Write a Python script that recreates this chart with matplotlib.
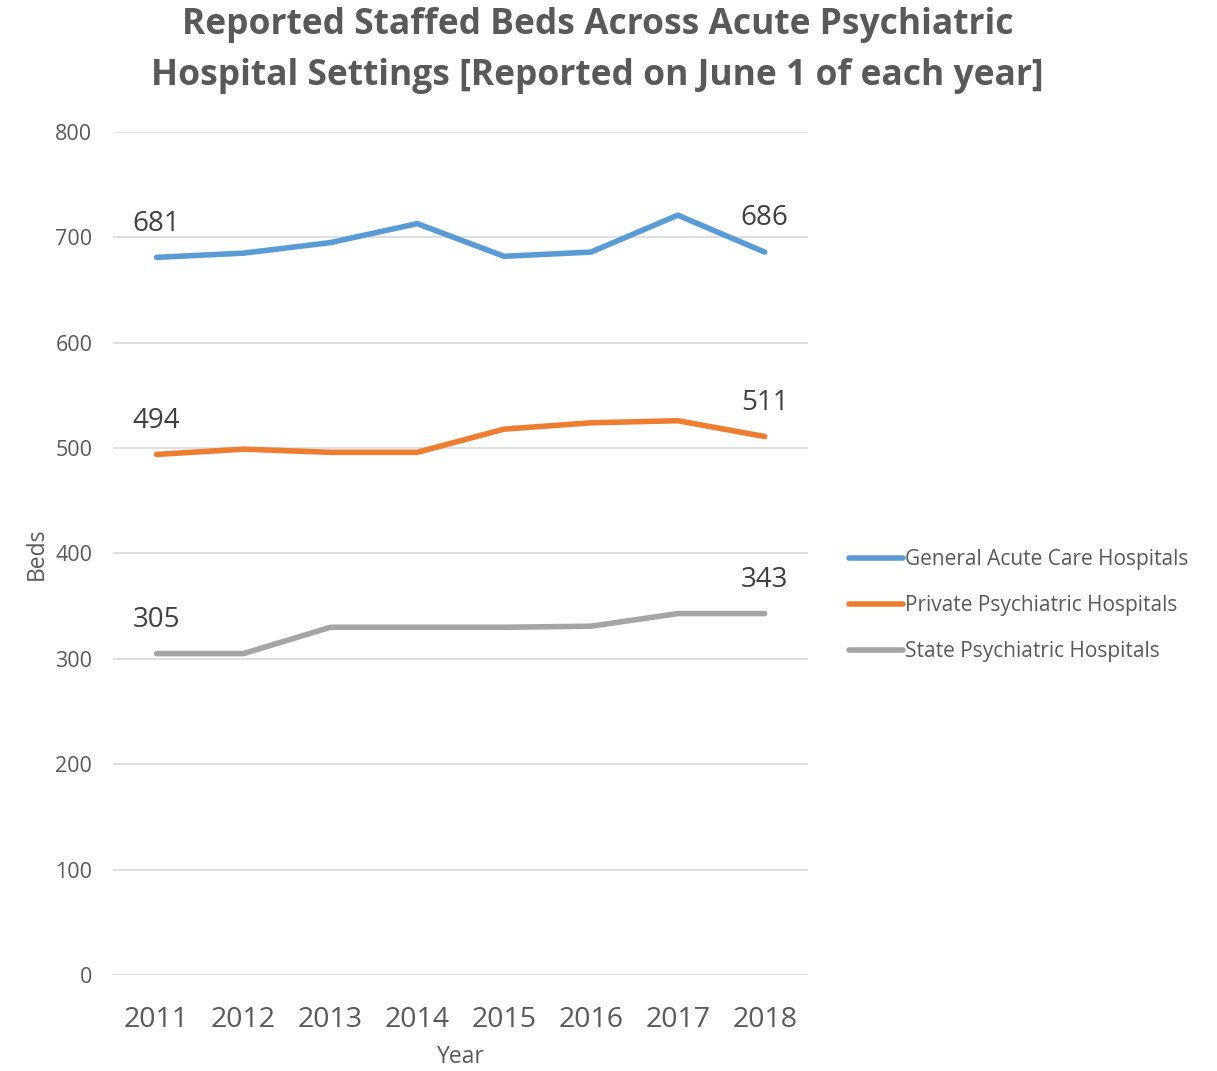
import matplotlib
matplotlib.use("Agg")
import matplotlib.pyplot as plt

years = ["2011", "2012", "2013", "2014", "2015", "2016", "2017", "2018"]
general_acute = [681, 685, 695, 713, 682, 686, 721, 686]
private_psych = [494, 499, 496, 496, 518, 524, 526, 511]
state_psych = [305, 305, 330, 330, 330, 331, 343, 343]
series_names = ["General Acute Care Hospitals", "Private Psychiatric Hospitals", "State Psychiatric Hospitals"]
colors = ["#5b9bd5", "#ed7d31", "#a5a5a5"]

text_color = "#595959"
plt.rcParams["font.family"] = ["Open Sans", "DejaVu Sans"]

fig = plt.figure(figsize=(12.17, 10.71), dpi=100)
ax = fig.add_axes([0.093, 0.0896, 0.571, 0.7872])

x = list(range(len(years)))
for vals, name, c in zip([general_acute, private_psych, state_psych], series_names, colors):
    ax.plot(x, vals, color=c, linewidth=4, solid_capstyle="round", label=name)
    # labels at first and last points only
    ax.text(x[0], vals[0] + 32, str(vals[0]), ha="center", va="center", fontsize=20, color="#404040")
    ax.text(x[-1], vals[-1] + 32, str(vals[-1]), ha="center", va="center", fontsize=20, color="#404040")

ax.set_xlim(-0.5, len(years) - 0.5)
ax.set_ylim(0, 800)
ax.set_yticks(range(0, 801, 100))
ax.set_xticks(x)
ax.set_xticklabels(years, fontsize=20.5, color=text_color)
ax.tick_params(axis="y", labelsize=15.5, labelcolor=text_color, length=0, pad=15)
ax.tick_params(axis="x", length=0, pad=22)
ax.grid(axis="y", color="#d9d9d9", linewidth=1.2)
ax.set_axisbelow(True)
for s in ax.spines.values():
    s.set_visible(False)

ax.set_ylabel("Beds", fontsize=16.5, color=text_color, labelpad=5)
ax.set_xlabel("Year", fontsize=16.5, color=text_color, labelpad=8)

fig.text(0.491, 0.953, "Reported Staffed Beds Across Acute Psychiatric\nHospital Settings [Reported on June 1 of each year]",
         ha="center", va="center", fontsize=25.5, fontweight="bold", color=text_color, linespacing=1.55)

ax.legend(loc="center left", bbox_to_anchor=(1.032, 0.438), frameon=False, fontsize=15,
          labelcolor=text_color, handlelength=2.6, handletextpad=0.1, labelspacing=1.2)

fig.savefig("out.png", dpi=100)
